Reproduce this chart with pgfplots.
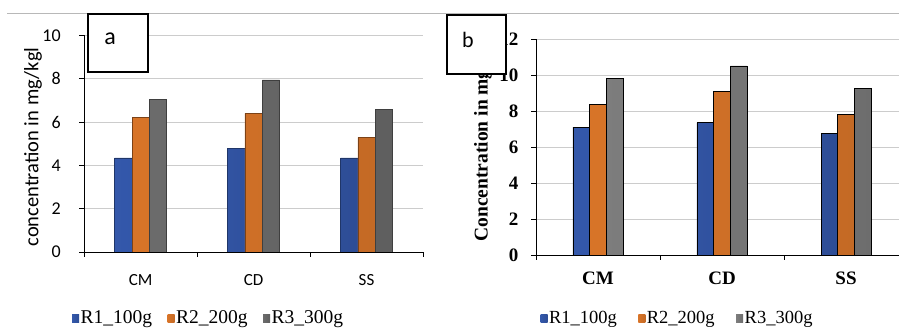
\documentclass[border=0pt]{standalone}
\usepackage{pgfplots}
\pgfplotsset{compat=1.18}
\usepackage{fontspec}
\setmainfont{Liberation Serif}
\newfontfamily\carlito{Carlito}
\definecolor{barblue}{HTML}{3F6BD0}
\definecolor{barorange}{HTML}{F5842E}
\definecolor{bargray}{HTML}{7E7E7E}
\definecolor{bargrayb}{HTML}{9C9C9C}
\definecolor{gridgray}{HTML}{CCCCCC}

\pgfplotsset{
  mybars/.style={
    scale only axis, anchor=south west,
    ybar=0pt, xmin=-0.5, ymin=0,
    /pgf/number format/assume math mode=true,
    axis x line*=bottom, axis y line*=left,
    axis line style={black, line width=0.8pt},
    xtick={-0.5,0.5,1.5,2.5}, xticklabels={,,,},
    extra x ticks={0,1,2}, extra x tick labels={CM,CD,SS},
    extra x tick style={major tick length=0pt},
    tick align=outside, major tick length=5pt,
    tick style={black, line width=0.8pt},
    ymajorgrids, grid style={gridgray, line width=0.9pt},
    legend columns=3,
    legend image code/.code={\path[#1, draw=none] (0pt,-4pt) rectangle (7pt,4pt);},
  },
  sblue/.style={draw=barblue!50!black, line width=0.6pt, left color=barblue!82!black, middle color=barblue!92!white, right color=barblue!72!black},
  sorange/.style={draw=barorange!50!black, line width=0.6pt, left color=barorange!88!black, middle color=barorange!85!white, right color=barorange!80!black},
  sgray/.style={draw=bargray!50!black, line width=0.6pt, left color=bargray!85!black, middle color=bargray!95!white, right color=bargray!75!black},
  sgrayb/.style={draw=black, line width=0.9pt, left color=bargrayb!80!black, middle color=bargrayb!70!white, right color=bargrayb!70!black},
}

\begin{document}
\begin{tikzpicture}[x=1pt,y=1pt]
\useasboundingbox (0,0) rectangle (899,329);
\draw[color=black!28, line width=0.8pt] (7,315.5) -- (899,315.5);

% ---------- panel a ----------
\begin{axis}[mybars, at={(84.2pt,77pt)}, width=338.8pt, height=216.5pt,
  xmax=2.5, ymax=10, ytick={0,2,...,10}, bar width=17.3pt,
  yticklabel style={font=\carlito\fontsize{18}{18}\selectfont, xshift=-15pt},
  xticklabel style={font=\carlito\fontsize{17}{17}\selectfont, yshift=-19pt},
  ylabel={concentration in mg/kgl},
  ylabel style={font=\carlito\fontsize{20.5}{21}\selectfont, at={(-0.151,0.485)}, anchor=center},
  legend style={at={(-0.036,-0.305)}, anchor=west, draw=none, fill=none, inner sep=0pt,
    font=\rmfamily\fontsize{19.5}{21}\selectfont,
    nodes={inner sep=1.5pt},
    /tikz/every even column/.append style={column sep=14pt}},
]
\addplot[sblue] coordinates {(0,4.35) (1,4.8) (2,4.35)};
\addplot[sorange] coordinates {(0,6.2) (1,6.4) (2,5.3)};
\addplot[sgray] coordinates {(0,7.05) (1,7.95) (2,6.6)};
\legend{R1\_100g, R2\_200g, R3\_300g}
\end{axis}

% ---------- panel b ----------
\begin{axis}[mybars, at={(536pt,74pt)}, width=363pt, height=216pt,
  xmax=2.427, ymax=12, ytick={0,2,...,12}, bar width=16.7pt,
  yticklabel style={font=\bfseries\fontsize{19}{19}\selectfont, xshift=-9pt},
  xticklabel style={font=\bfseries\fontsize{19}{19}\selectfont, yshift=-13pt},
  ylabel={Concentration in mg/kg},
  ylabel style={font=\bfseries\fontsize{19.5}{21}\selectfont, at={(-0.146,0.046)}, anchor=west},
  legend style={at={(0.012,-0.292)}, anchor=west, draw=none, fill=none, inner sep=0pt,
    font=\rmfamily\fontsize{18.5}{20}\selectfont,
    nodes={inner sep=1.5pt},
    /tikz/every even column/.append style={column sep=20pt}},
]
\addplot[sblue, draw=black, line width=0.9pt] coordinates {(0,7.1) (1,7.35) (2,6.75)};
\addplot[sorange, draw=black, line width=0.9pt] coordinates {(0,8.35) (1,9.1) (2,7.8)};
\addplot[sgrayb] coordinates {(0,9.8) (1,10.5) (2,9.25)};
\legend{R1\_100g, R2\_200g, R3\_300g}
\end{axis}

\draw[fill=white, line width=1.2pt] (88,257) rectangle (148,315);
\node[font=\carlito\fontsize{24}{24}\selectfont] at (110,290) {a};
\draw[fill=white, line width=1.2pt] (447,255) rectangle (506,314);
\node[font=\carlito\fontsize{22}{22}\selectfont] at (468,289) {b};
\end{tikzpicture}
\end{document}
